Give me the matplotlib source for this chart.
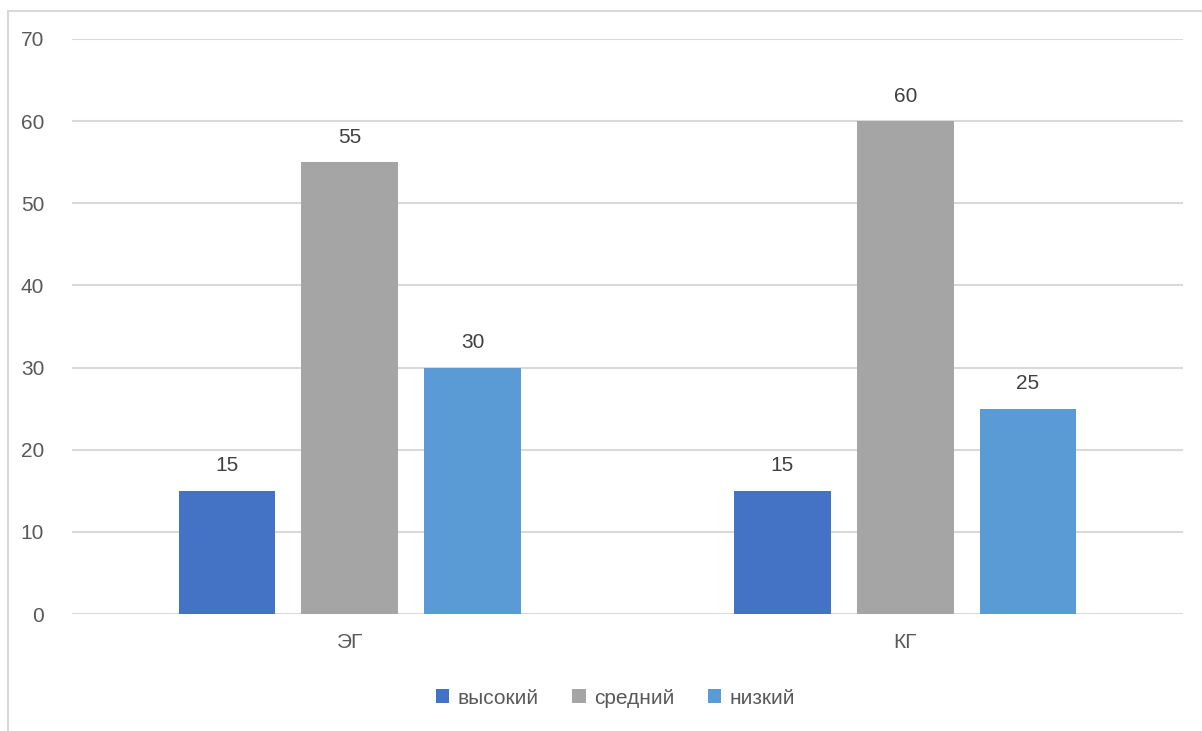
import matplotlib.pyplot as plt
import numpy as np
from matplotlib.patches import Rectangle

# данные
categories = ['ЭГ', 'КГ']
series = ['высокий', 'средний', 'низкий']
vysokiy = [15, 15]
sredniy = [55, 60]
nizkiy = [30, 25]
colors = ['#4472C4', '#A5A5A5', '#5B9BD5']

plt.rcParams['font.family'] = ['Liberation Sans', 'DejaVu Sans']
text_color = '#595959'

fig = plt.figure(figsize=(12.02, 7.31), dpi=100)
ax = fig.add_axes([72 / 1202, 1 - 614 / 731, (1183 - 72) / 1202, (614 - 39) / 731])

x = np.arange(len(categories))
width = 0.174
offset = 0.221
for i, (vals, name) in enumerate(zip([vysokiy, sredniy, nizkiy], series)):
    bars = ax.bar(x + (i - 1) * offset, vals, width, color=colors[i], label=name, zorder=3)
    for b, v in zip(bars, vals):
        ax.text(b.get_x() + b.get_width() / 2, v + 1.9, str(v), ha='center', va='bottom',
                fontsize=15, color='#404040')

ax.set_xlim(-0.5, 1.5)
ax.set_ylim(0, 70)
ax.set_yticks(range(0, 71, 10))
ax.set_xticks(x)
ax.set_xticklabels(categories)
ax.grid(axis='y', color='#D9D9D9', linewidth=1.5, zorder=0)
for s in ax.spines.values():
    s.set_visible(False)
ax.tick_params(length=0, labelsize=15, colors=text_color)
ax.tick_params(axis='y', pad=20)
ax.tick_params(axis='x', pad=14)

leg = fig.legend(loc='center', bbox_to_anchor=(0.512, 1 - 698 / 731), ncol=3, frameon=False,
                 fontsize=15, handlelength=0.65, handleheight=0.65, handletextpad=0.4, columnspacing=1.6)
for t in leg.get_texts():
    t.set_color(text_color)

# рамка диаграммы
fig.patches.append(Rectangle((8 / 1202, -0.1), 2, 1 - 11 / 731 + 0.1, transform=fig.transFigure,
                             fill=False, edgecolor='#D9D9D9', linewidth=1.5))

fig.savefig('out.png', dpi=100)
